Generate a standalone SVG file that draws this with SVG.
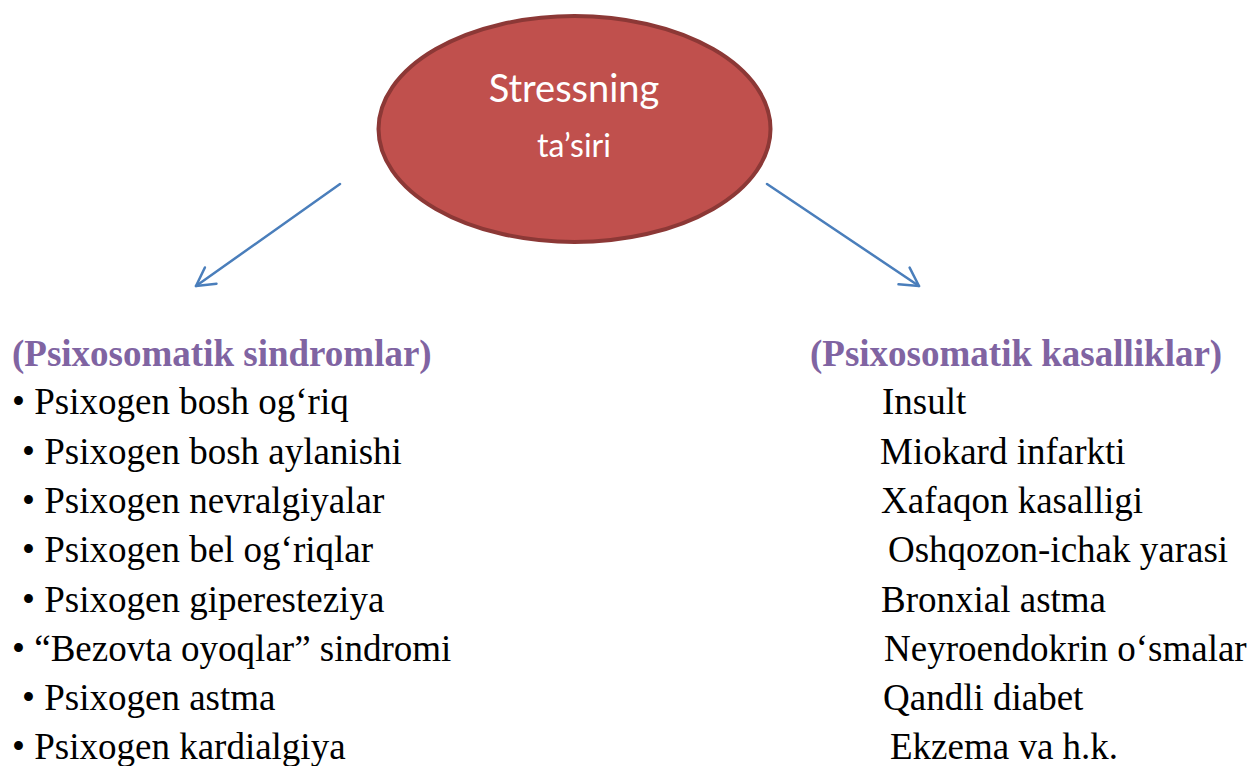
<svg xmlns="http://www.w3.org/2000/svg" width="1254" height="766" viewBox="0 0 1254 766">
<style>
.bg{fill:#ffffff}
.oval{fill:#c0504d;stroke:#8c3836;stroke-width:4}
.ot{font-family:Lato,"Open Sans",sans-serif;fill:#ffffff;text-anchor:middle}
.conn{stroke:#4a7ebb;stroke-width:2.5;fill:none;stroke-linecap:round}
.hd{font-family:'Times New Roman','Liberation Serif',Tinos,'DejaVu Serif','Noto Serif',serif;font-weight:bold;font-size:37px;fill:#8064a2}
.it{font-family:'Times New Roman','Liberation Serif',Tinos,'DejaVu Serif','Noto Serif',serif;font-size:37px;fill:#000000}
</style>
<defs>
<marker id="arrow" viewBox="0 0 24 24" refX="20" refY="12" markerWidth="24" markerHeight="24" markerUnits="userSpaceOnUse" orient="auto" overflow="visible">
<path d="M2,2 L20,12 L2,22" fill="none" stroke="#4a7ebb" stroke-width="2.5" stroke-linecap="round" stroke-linejoin="round"/>
</marker>
</defs>
<rect class="bg" x="0" y="0" width="1254" height="766"/>
<g id="node-stress">
<ellipse class="oval" cx="574.5" cy="129" rx="196" ry="113"/>
<text class="ot" x="574" y="102" font-size="38">Stressning</text>
<text class="ot" x="574" y="157" font-size="32">ta’siri</text>
</g>
<g id="connectors">
<line class="conn" x1="340" y1="184" x2="196" y2="286" marker-end="url(#arrow)"/>
<line class="conn" x1="767" y1="184" x2="919" y2="286" marker-end="url(#arrow)"/>
</g>
<g id="node-sindromlar">
<text class="hd" x="12" y="366">(Psixosomatik sindromlar)</text>
<text class="it" x="12" y="414">• Psixogen bosh og‘riq</text>
<text class="it" x="22" y="464">• Psixogen bosh aylanishi</text>
<text class="it" x="22" y="513">• Psixogen nevralgiyalar</text>
<text class="it" x="22" y="562">• Psixogen bel og‘riqlar</text>
<text class="it" x="22" y="612">• Psixogen giperesteziya</text>
<text class="it" x="12" y="661">• “Bezovta oyoqlar” sindromi</text>
<text class="it" x="22" y="710">• Psixogen astma</text>
<text class="it" x="12" y="759">• Psixogen kardialgiya</text>
</g>
<g id="node-kasalliklar">
<text class="hd" x="810" y="366">(Psixosomatik kasalliklar)</text>
<text class="it" x="882" y="414">Insult</text>
<text class="it" x="880" y="464">Miokard infarkti</text>
<text class="it" x="881" y="513">Xafaqon kasalligi</text>
<text class="it" x="888" y="562">Oshqozon-ichak yarasi</text>
<text class="it" x="881" y="612">Bronxial astma</text>
<text class="it" x="884" y="661">Neyroendokrin o‘smalar</text>
<text class="it" x="883" y="710">Qandli diabet</text>
<text class="it" x="890" y="759">Ekzema va h.k.</text>
</g>
</svg>
